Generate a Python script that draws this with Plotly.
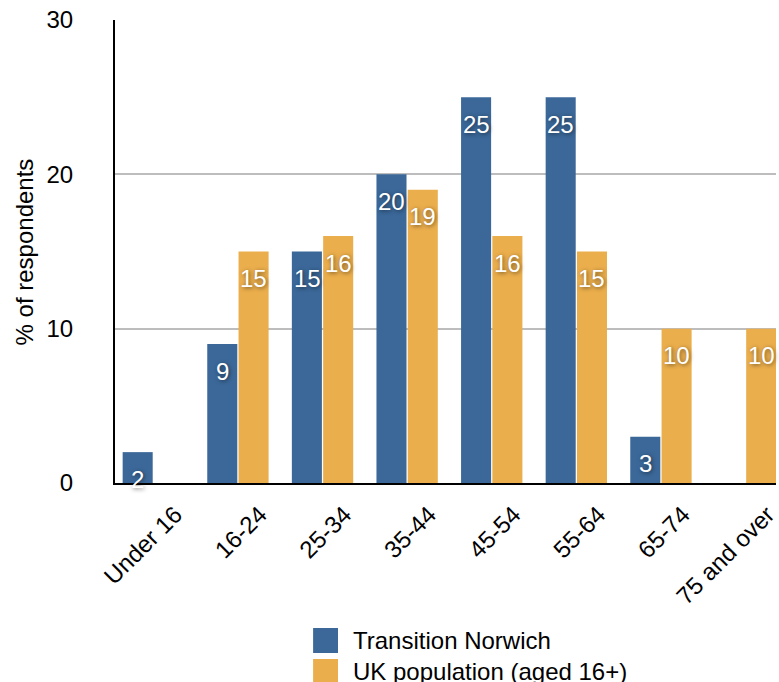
import plotly.graph_objects as go

# Age bands and the share of respondents in each (%)
age_groups = ["Under 16", "16-24", "25-34", "35-44", "45-54", "55-64", "65-74", "75 and over"]
norwich_pct = [2, 9, 15, 20, 25, 25, 3, None]
uk_pct = [None, 15, 16, 19, 16, 15, 10, 10]
series_names = ["Transition Norwich", "UK population (aged 16+)"]
series_colors = ["#3b6899", "#ebae4c"]
y_ticks = [0, 10, 20, 30]

W, H = 779, 682
M_L, M_R, M_T, M_B = 115, 0, 20, 199
PLOT_W = W - M_L - M_R
PLOT_H = H - M_T - M_B
FONT = "Liberation Sans, Arial, Helvetica, sans-serif"
FS = 24


def px_x(px):
    return (px - M_L) / PLOT_W


def px_y(py):
    return (H - M_B - py) / PLOT_H


fig = go.Figure()
for name, vals, col in zip(series_names, [norwich_pct, uk_pct], series_colors):
    fig.add_trace(go.Bar(
        x=age_groups, y=vals, name=name,
        marker=dict(color=col, line=dict(width=0)),
        showlegend=False, hoverinfo="x+y+name",
    ))

# value labels sitting just inside the top of each bar
annotations = []
for vals, shift in [(norwich_pct, -15.5), (uk_pct, 15.5)]:
    for cat, v in zip(age_groups, vals):
        if v is None:
            continue
        annotations.append(dict(
            x=cat, y=v, xref="x", yref="y", text=str(v), showarrow=False,
            xshift=shift, yshift=-27,
            font=dict(family=FONT, size=FS, color="white",
                      shadow="1px 1px 4px rgba(0,0,0,0.55)"),
        ))

# y-axis title
annotations.append(dict(
    x=px_x(24), y=px_y(252), xref="paper", yref="paper", text="% of respondents",
    textangle=-90, showarrow=False, xanchor="center", yanchor="middle",
    font=dict(family=FONT, size=FS, color="black"),
))

# legend: colour swatches with labels underneath the chart
shapes = []
for i, (name, col) in enumerate(zip(series_names, series_colors)):
    top = 628 + i * 31
    shapes.append(dict(
        type="rect", xref="paper", yref="paper",
        x0=px_x(314), x1=px_x(339), y0=px_y(top), y1=px_y(top + 25),
        fillcolor=col, line=dict(width=0),
    ))
    annotations.append(dict(
        x=px_x(352), y=px_y(top + 12.5), xref="paper", yref="paper",
        text=name, showarrow=False, xanchor="left", yanchor="middle",
        font=dict(family=FONT, size=FS, color="black"),
    ))

fig.update_layout(
    width=W, height=H,
    margin=dict(l=M_L, r=M_R, t=M_T, b=M_B, pad=0),
    paper_bgcolor="white", plot_bgcolor="white",
    barmode="group", bargap=0.26, bargroupgap=0.04,
    font=dict(family=FONT, size=FS, color="black"),
    annotations=annotations, shapes=shapes,
    showlegend=False,
)
fig.update_xaxes(
    type="category", categoryorder="array", categoryarray=age_groups,
    range=[-0.453, 7.36], tickangle=-45,
    showline=True, linecolor="black", linewidth=2,
    showgrid=False, ticks="", ticklabelshift=22, ticklabelstandoff=6,
    tickfont=dict(family=FONT, size=FS, color="black"),
)
fig.update_yaxes(
    range=[0, 30], tickvals=y_ticks,
    showline=True, linecolor="black", linewidth=2,
    showgrid=True, gridcolor="#bdbdbd", gridwidth=2, zeroline=False,
    ticks="", ticklabelstandoff=35,
    tickfont=dict(family=FONT, size=FS, color="black"),
)

fig.write_html("out.html")
